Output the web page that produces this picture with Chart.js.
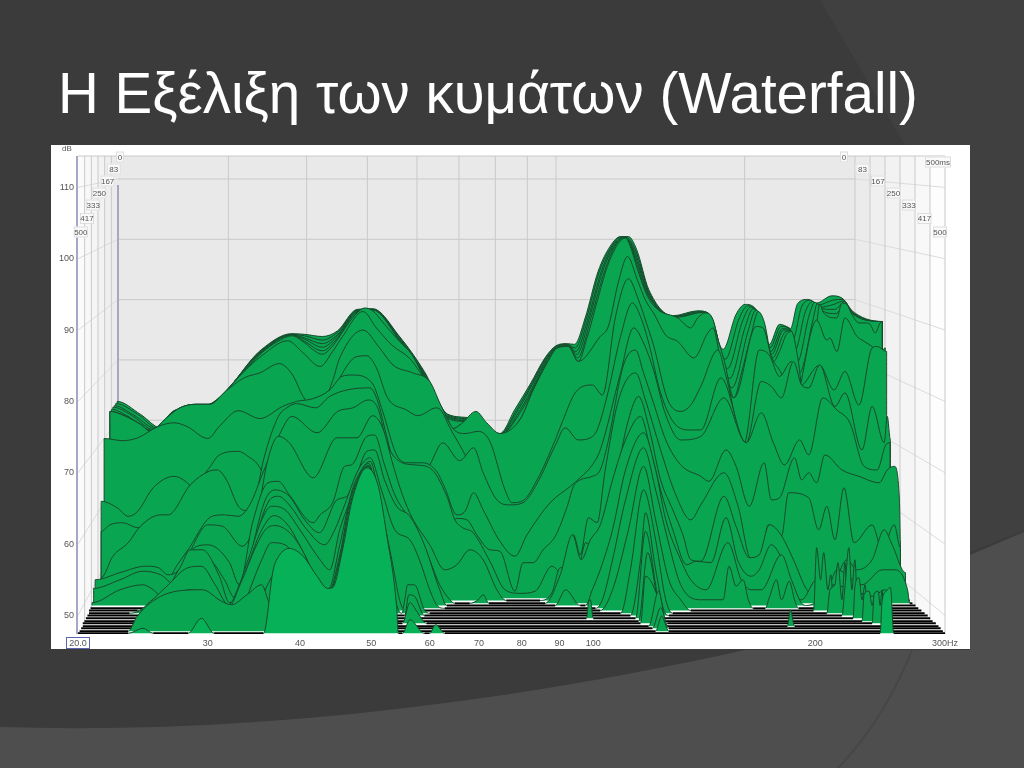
<!DOCTYPE html>
<html lang="el">
<head>
<meta charset="UTF-8">
<title>Waterfall</title>
<style>
    html, body { margin: 0; padding: 0; width: 1024px; height: 768px; overflow: hidden; background: #3b3b3b; }
    #bg { position: absolute; left: 0; top: 0; }
    h1 {
        position: absolute; left: 58px; top: 61px; margin: 0;
        font: normal 56.5px "Liberation Sans", Arial, sans-serif; color: #fff; white-space: nowrap;
    }
    .chart-container { position: absolute; left: 51px; top: 145px; width: 919px; height: 504px; background: #fff; }
</style>
</head>
<body>
<svg id="bg" width="1024" height="768">
    <path d="M820,0 L1024,0 L1024,530 L970,552 L970,145 L905,145 Z" fill="#404040"/>
    <path d="M0,727 C260,735 520,700 745,650 L970,650 L970,555 L1024,532 L1024,768 L0,768 Z" fill="#4e4e4e"/>
    <path d="M912,650 C890,705 865,740 838,768" fill="none" stroke="#464646" stroke-width="2"/>
</svg>
<h1>Η Εξέλιξη των κυμάτων (Waterfall)</h1>
<div class="chart-container"><canvas id="waterfall"></canvas></div>

<script src="https://cdn.jsdelivr.net/npm/chart.js"></script>
<script>
// axis ticks
const xTickHz = [20, 30, 40, 50, 60, 70, 80, 90, 100, 200, 300];
const xTickLabels = ['20.0', '30', '40', '50', '60', '70', '80', '90', '100', '200', '300Hz'];
const yTickDb = [50, 60, 70, 80, 90, 100, 110];
const depthLabels = ['0', '83', '167', '250', '333', '417', '500'];

// slices, back to front: frequency (Hz) and apparent level (dB)
const c0Hz = [22.6,24.3,25.9,27.1,30.2,35.5,39.0,40.6,42.9,45.0,47.8,50.2,54.6,59.0,63.5,68.0,74.7,78.3,82.1,86.0,89.0,92.0,94.3,97.5,101.5,105.5,108.9,111.6,114.5,118.9,128.2,138.6,143.5,150.0,156.2,160.7,165.9,173.3,178.9,184.5,185.1,189.3,195.4,200.9,210.7,217.4,222.9,228.6,233.0,235.9,238.2,240.4,242.7,244.2,246.5];
const c0Db = [80.0,78.2,76.3,78.8,79.6,87.3,89.5,89.4,89.1,89.9,92.9,93.0,89.1,84.2,78.2,77.7,75.5,78.9,82.4,86.1,87.8,88.1,88.0,91.7,98.2,101.8,103.1,103.1,101.3,95.7,92.0,92.7,92.3,87.3,92.2,93.6,93.0,88.0,90.8,90.3,90.2,93.7,94.3,93.8,94.8,94.5,93.1,91.5,91.2,90.6,91.2,90.5,90.8,90.2,91.2];
const c1Hz = [22.5,24.1,25.7,27.0,30.2,35.5,39.0,40.6,42.9,45.0,47.8,50.2,54.6,59.0,63.5,68.0,74.7,78.8,82.4,86.2,89.1,92.1,94.5,97.9,102.0,106.0,109.2,111.7,114.6,118.8,128.6,139.3,143.9,151.0,157.7,162.0,166.8,173.7,179.7,184.7,186.4,191.6,196.9,201.8,211.4,218.1,223.2,246.5];
const c1Db = [79.7,78.2,76.2,78.7,79.6,87.2,89.4,89.2,88.6,89.7,92.8,92.9,89.0,84.0,78.1,77.5,75.4,78.9,82.4,86.1,87.7,88.0,87.5,91.7,98.3,101.8,103.1,102.8,100.7,95.5,91.9,92.6,92.1,85.9,91.6,93.4,92.6,87.5,90.5,90.2,88.6,93.2,94.2,93.5,94.2,94.3,92.9,91.2];
const c2Hz = [22.4,23.8,25.6,26.9,30.2,35.5,39.0,40.6,42.9,45.0,47.8,50.2,54.6,59.0,63.5,68.0,74.7,79.2,82.7,86.4,89.2,92.2,94.7,98.4,102.6,106.5,109.6,111.9,114.6,118.7,129.0,140.0,144.2,152.1,159.2,163.4,167.7,174.2,180.5,185.0,187.7,194.0,198.4,202.7,212.0,218.8,223.5,246.5];
const c2Db = [79.4,78.1,76.1,78.6,79.6,87.1,89.4,88.9,88.1,89.4,92.7,92.9,88.8,83.8,77.9,77.4,75.4,78.9,82.4,86.0,87.7,88.0,87.0,91.7,98.3,101.9,103.0,102.5,100.2,95.3,91.9,92.6,92.0,84.6,91.1,93.2,92.3,87.0,90.2,90.1,87.1,92.6,94.0,93.2,93.6,94.1,92.7,91.2];
const c3Hz = [22.3,23.6,25.4,26.9,30.2,35.5,39.0,40.6,42.9,45.0,47.8,50.2,54.6,59.0,63.5,68.0,74.7,79.7,83.1,86.6,89.4,92.3,95.0,98.8,103.1,106.9,109.9,112.0,114.7,118.7,129.4,140.6,144.6,153.1,160.8,164.7,168.7,174.6,181.2,185.2,189.1,196.3,199.8,203.6,212.7,219.4,223.7,246.5];
const c3Db = [79.2,78.1,76.0,78.4,79.6,87.0,89.3,88.7,87.6,89.2,92.6,92.8,88.7,83.7,77.8,77.2,75.3,78.9,82.4,86.0,87.6,87.9,86.6,91.7,98.4,101.9,103.0,102.3,99.6,95.1,91.8,92.5,91.8,83.2,90.5,93.0,91.9,86.6,90.0,90.0,85.5,92.1,93.9,93.0,92.9,94.0,92.6,91.2];
const c4Hz = [22.2,23.3,25.3,26.8,30.2,35.5,39.0,40.6,42.9,45.0,47.8,50.2,54.6,59.0,63.5,68.0,74.7,80.1,83.4,86.8,89.5,92.4,95.2,99.3,103.7,107.4,110.3,112.2,114.7,118.6,129.8,141.3,144.9,154.2,162.3,166.1,169.6,175.1,182.0,185.5,190.4,198.7,201.3,204.5,213.3,220.1,224.0,246.5];
const c4Db = [78.9,78.0,75.9,78.3,79.6,86.9,89.3,88.4,87.1,88.9,92.5,92.8,88.5,83.5,77.6,77.1,75.3,78.9,82.4,85.9,87.6,87.8,86.1,91.7,98.4,102.0,102.9,102.0,99.1,94.9,91.8,92.5,91.7,81.9,90.0,92.8,91.6,86.1,89.7,89.9,84.0,91.5,93.7,92.7,92.3,93.8,92.4,91.2];
const mHz = [22.1,23.1,24.3,25.1,26.3,27.5,28.9,30.2,31.7,33.6,35.5,37.3,39.0,40.6,42.0,42.9,43.9,45.0,46.3,47.8,49.0,50.2,52.1,54.6,56.7,59.0,61.3,63.5,64.4,66.3,68.0,71.3,74.7,79.6,82.9,86.6,89.4,92.5,95.4,98.2,101.2,104.5,107.9,110.6,112.3,114.8,118.5,122.2,130.2,135.6,138.6,142.0,145.3,147.6,150.4,155.2,158.7,163.8,167.4,170.5,175.5,178.9,182.8,185.7,189.9,191.7,196.0,201.0,202.8,205.4,214.0,217.4,220.8,224.3,229.3,233.7,237.4,241.2,245.0,246.5];
const mDb = [78.6,78.0,76.8,75.8,77.6,79.1,79.6,79.6,81.4,84.2,86.8,88.4,89.2,88.2,87.0,86.6,87.3,88.7,90.6,92.4,93.1,92.7,90.8,88.4,86.6,83.3,80.3,77.5,76.1,76.8,76.9,76.1,75.2,77.5,81.7,85.4,87.5,87.7,85.6,89.1,94.0,98.9,102.0,102.9,101.7,98.5,94.7,92.9,91.7,90.3,91.7,92.4,91.5,88.7,85.9,80.5,83.8,89.4,92.6,91.2,85.6,87.0,89.4,89.8,85.4,82.4,84.0,91.0,93.6,92.4,91.7,93.8,93.6,92.2,91.0,91.0,90.8,89.6,91.0,91.2];
const l1Hz = [22.1,23.1,24.3,25.1,26.3,27.5,28.9,30.2,31.7,33.6,35.5,38.5,40.4,42.6,44.3,45.7,48.7,50.8,53.3,56.4,58.1,60.4,62.9,64.5,66.3,69.3,71.7,74.7,79.6,82.9,86.6,89.4,92.5,95.4,102.2,104.8,108.2,111.3,114.8,117.7,120.7,125.4,130.2,136.9,143.0,145.3,149.0,155.2,166.3,170.0,174.4,181.7,184.5,188.7,200.9,207.4,209.4,214.0,219.5,227.9,231.5,238.9,244.2,249.0];
const l1Db = [78.6,78.0,76.8,75.8,77.6,79.1,79.6,79.6,81.4,84.2,86.4,88.5,86.8,84.9,87.0,89.1,92.6,90.3,87.9,86.0,84.2,81.5,78.1,76.2,76.9,78.6,77.0,75.5,77.5,81.6,85.4,87.5,87.7,85.6,89.1,90.5,96.8,100.3,97.0,94.2,92.4,89.3,88.4,86.1,89.6,90.3,85.6,80.5,90.5,90.3,86.3,82.6,78.6,80.2,91.4,88.6,88.9,87.0,91.7,89.1,88.6,87.7,86.8,87.5];
const l2Hz = [22.1,23.1,24.3,25.1,26.3,27.5,28.9,30.2,31.7,33.6,35.3,37.5,39.1,40.4,42.3,44.3,45.3,48.7,51.3,53.5,56.9,60.0,62.1,64.9,67.0,69.8,72.4,75.9,77.6,80.3,83.9,88.8,91.0,94.5,99.7,102.9,107.2,111.6,115.2,118.9,120.7,126.2,131.4,135.6,139.9,147.6,151.4,160.2,167.9,173.3,178.9,185.7,190.5,202.8,212.1,219.5,229.3,238.9,242.7,250.0];
const l2Db = [78.6,78.0,76.8,75.8,77.6,79.1,79.6,79.6,81.4,83.3,84.0,85.3,83.7,80.7,78.6,82.9,86.1,90.0,87.5,85.1,84.0,82.8,79.5,75.9,75.5,75.8,74.4,67.6,65.8,66.1,69.0,74.6,77.4,81.2,82.3,80.9,91.9,97.2,94.2,90.0,87.9,80.2,78.6,79.5,82.1,87.2,83.5,74.2,87.2,86.5,83.5,85.6,82.1,85.1,81.6,84.2,79.5,87.5,87.7,87.0];
const l3Hz = [29.3,35.3,40.0,43.9,45.3,47.8,49.3,50.8,52.6,55.8,57.8,61.3,62.3,63.9,67.0,72.4,79.6,93.1];
const l3Db = [69.0,74.6,77.4,80.2,83.3,86.3,86.4,84.7,80.5,78.8,78.0,79.1,78.6,76.3,72.5,64.8,60.6,57.1];
const tbHz = [40.0,54.6,58.1,60.0,62.5,65.9,68.8,70.9,74.0,77.1,80.3,83.9,88.8,91.6,95.4,99.1,101.2,104.5,108.9,113.0,115.9,118.9,123.4,129.4,135.6,139.9,149.0,161.2,169.0,174.4,180.0,186.9,191.7,196.0,202.8,212.7,219.5,231.5,238.9,248.1,250.5,253.0];
const tbDb = [66.2,67.6,69.0,71.1,74.2,71.7,73.5,70.0,66.2,65.5,65.8,68.5,73.8,76.3,74.6,74.9,76.0,80.9,89.1,93.8,91.9,88.2,81.2,76.7,76.0,76.0,83.3,74.2,82.8,82.1,80.5,85.6,82.3,81.9,85.1,79.3,81.2,73.2,79.3,74.2,77.9,74.6];
const l4Hz = [21.7,23.0,24.1,25.7,27.0,28.1,30.0,31.1,33.0,35.3,37.9,39.6,41.7,43.9,45.6,47.1,50.1,51.8,54.1,55.9,58.7,61.3,62.9,65.3,67.0,68.8,70.9,74.7,78.3,81.3,87.4,93.1,96.0,99.7,102.2,108.9,113.4,117.0,120.7,125.4,131.4,139.9,150.4,161.2,169.0,175.5,181.7,190.5,196.0,204.8,214.0,222.9,233.0,242.7,249.3,252.7];
const l4Db = [74.8,74.5,74.9,76.5,77.0,76.5,74.8,76.5,78.7,77.6,79.3,80.0,80.4,81.6,83.5,83.7,82.6,78.6,72.5,71.4,71.4,70.2,67.9,64.1,64.6,67.2,64.8,60.4,58.3,61.3,65.8,68.1,69.3,71.1,73.2,84.0,90.3,88.2,84.4,78.1,74.6,75.1,80.5,74.2,78.4,74.2,71.1,74.6,72.5,80.5,78.8,77.0,70.9,70.4,73.9,74.2];
const bHz = [21.5,22.6,23.4,24.1,25.3,27.0,27.8,28.4,29.3,30.7,32.6];
const bDb = [66.0,65.1,63.9,64.6,67.9,69.5,69.0,68.1,65.5,63.4,60.6];
const eHz = [21.5,22.1,23.0,24.1,25.9,28.4,30.1,31.1,33.0,34.0,35.3,36.2,36.9];
const eDb = [61.8,62.7,63.0,62.3,62.3,67.4,70.6,72.5,73.0,72.3,70.7,67.6,62.7];
const l5Hz = [21.5,22.3,23.4,24.3,25.9,26.5,28.4,30.1,30.9,31.8,33.0,33.8,35.0,35.7,37.4,38.4,39.6,42.0,43.9,46.3,49.8,51.0,52.4,54.1,56.4,60.0,61.3,63.3,65.3,67.4,69.5,72.4,74.7,78.3,80.3,82.9,85.5,88.8,92.2,94.0,96.0,99.7,102.2,104.5,109.9,114.1,117.0,120.7,125.4,131.4,139.9,143.5,151.4,156.2,162.8,170.5,174.4,178.9,187.5,191.7,196.0,200.9,206.1,217.4,229.3,244.2,250.5,256.0,260.2,261.0];
const l5Db = [55.3,58.3,60.2,62.5,64.1,64.1,68.3,70.2,70.4,69.0,65.3,64.7,67.6,71.8,77.9,79.1,79.7,79.1,80.7,81.6,81.9,80.0,75.3,69.7,64.8,59.9,58.3,61.3,63.6,63.4,61.3,59.2,59.0,53.4,57.4,57.4,59.2,61.1,65.3,68.1,69.0,69.5,70.4,73.9,85.1,87.2,84.0,79.8,74.6,71.1,69.5,68.8,73.2,70.9,65.3,71.4,66.2,66.5,72.1,69.0,70.0,68.6,72.5,70.4,69.5,68.6,70.4,70.9,66.2,60.6];
const l6Hz = [25.9,27.2,28.2,30.4,31.6,33.0,34.2,35.7,37.5,39.0,42.2,45.0,47.2,49.5,51.0,52.6,54.6,57.3,60.0,63.3,64.9,66.5,68.7,72.4,75.9,79.6,83.4,87.9,91.0,94.0,96.0,98.5,101.2,103.8,108.2,114.1,117.7,123.4,129.4,135.6,139.9,150.4,157.2,163.8,169.0,172.8,177.2,180.0,184.0,196.0,202.2,207.4,212.7,218.8,225.8,238.9,246.5,256.0,261.0];
const l6Db = [53.4,56.9,59.2,63.9,64.1,63.9,65.5,70.2,75.3,77.9,75.6,78.6,79.1,80.2,79.1,73.9,71.6,71.1,70.7,66.7,63.4,62.3,61.6,57.6,53.6,53.1,53.4,56.9,55.7,61.3,58.5,63.7,63.0,70.4,80.2,84.0,80.2,73.2,66.9,63.4,65.5,70.0,65.3,57.8,58.3,62.7,62.0,61.1,67.2,66.5,62.0,65.3,60.6,67.9,60.2,62.7,59.2,62.7,59.5];
const l7Hz = [21.1,22.8,24.7,25.7,26.5,27.3,28.2,30.0,31.4,33.4,35.0,36.1,37.4,38.7,41.7,44.9,47.8,50.2,51.8,53.5,55.1,56.8,60.0,62.9,65.3,68.0,70.9,74.0,76.2,78.3,84.7,87.9,90.2,93.1,96.0,97.6,100.0,103.2,107.2,111.6,115.2,118.9,123.4,128.2,132.3,135.6,139.9,150.4,156.2,162.8,167.9,173.3,178.9,186.9,194.8,200.9,210.7,220.8,227.9,238.9,248.1,254.4,265.2];
const l7Db = [55.0,56.0,56.9,56.7,55.7,56.2,58.5,62.7,62.5,59.7,63.9,71.4,75.1,74.2,69.3,74.9,74.9,78.0,76.3,71.1,66.9,63.7,59.9,56.4,57.1,59.2,57.8,53.6,52.1,52.1,52.1,53.2,56.7,56.4,57.6,60.2,59.7,61.6,69.0,77.4,80.7,76.5,69.0,64.8,61.3,57.8,57.6,66.7,62.5,58.1,58.5,62.7,61.6,57.8,53.6,52.7,53.6,57.8,56.4,57.8,62.0,59.9,56.0];
const l8Hz = [21.0,22.8,24.5,25.9,27.1,27.6,28.4,30.0,32.1,33.1,34.5,36.2,37.4,38.7,41.7,42.6,44.3,46.0,47.0,49.3,50.5,52.1,53.8,56.4,59.6,61.9,63.9,64.9,68.0,69.8,70.9,72.2,86.0,90.2,93.7,96.3,99.1,102.2,106.2,110.6,115.9,119.6,123.4,128.2,133.9,137.8,144.4,151.4,157.2,163.8,167.9,174.4,181.1,186.9,191.7,200.9,207.4,214.0,231.5,246.5,256.8,266.9,268.7];
const l8Db = [53.8,55.0,56.2,55.7,54.3,56.4,59.0,59.9,57.4,54.3,63.0,68.6,68.8,66.9,63.0,64.1,65.8,70.9,71.1,75.1,75.3,71.1,66.9,63.4,58.5,54.3,52.2,51.7,51.7,52.2,52.9,51.7,51.7,55.7,61.3,57.8,60.6,62.7,69.0,74.6,77.9,73.2,67.6,62.0,57.1,57.6,57.4,63.7,57.6,55.5,56.4,59.9,57.4,53.2,52.2,55.0,53.6,56.4,54.3,56.4,56.4,53.6,51.7];
const l9Hz = [20.9,22.8,24.5,25.3,26.1,27.1,28.4,30.0,31.6,32.6,33.6,34.7,35.9,37.0,38.7,40.6,42.5,44.9,46.3,47.5,49.3,50.5,52.1,54.1,56.4,59.0,61.9,63.3,88.8,91.7,96.0,97.6,99.7,102.2,106.2,110.6,117.0,121.5,125.4,131.4,135.6,142.2,152.3,158.7,163.8,169.0,180.0,185.7,191.7,194.8,202.8,210.7,224.3,238.9,249.3,254.4];
const l9Db = [51.8,53.6,54.3,53.6,52.5,55.0,57.8,57.8,55.0,52.5,52.9,60.6,66.2,67.6,66.7,63.4,61.6,66.2,66.7,69.0,73.0,73.2,69.0,65.3,63.9,59.9,53.6,51.4,51.4,53.6,51.4,51.4,53.6,56.4,62.0,70.4,75.6,70.4,63.4,57.8,55.0,53.6,60.2,55.0,53.6,53.6,58.5,55.0,51.7,51.4,52.2,54.3,53.6,52.7,53.6,51.4];
const l10Hz = [26.1,27.5,28.4,29.5,31.1,32.1,33.6,35.1,36.4,37.4,38.7,40.9,43.2,44.6,46.0,48.0,49.8,51.6,53.8,56.4,58.1,60.0,61.3,62.9,100.7,102.9,106.2,110.6,117.0,121.5,126.2,131.4,139.9,150.0,152.8,156.2,159.7,162.3,164.8,171.1,173.3,177.2,180.0,184.5,187.5,189.9,204.1];
const l10Db = [53.6,56.7,59.2,59.2,55.5,51.8,54.3,62.0,66.2,66.7,65.5,62.0,59.9,62.0,65.5,70.4,72.1,67.6,62.0,60.6,57.8,53.6,51.5,51.0,51.0,52.2,57.8,66.2,73.5,67.6,60.6,54.3,52.2,52.2,56.9,54.1,55.0,52.2,51.0,51.0,52.5,55.0,52.2,54.8,52.2,51.0,51.0];
const l11Hz = [24.1,25.1,26.4,28.2,29.4,30.7,32.0,33.1,34.2,35.5,36.6,38.2,40.0,42.6,43.9,45.3,47.1,48.5,49.8,51.6,53.3,54.6,55.5,102.2,106.2,111.6,117.0,121.5,126.6,131.4,135.6,199.0,200.9,203.4,205.4,208.1,210.0,212.1];
const l11Db = [50.7,52.0,54.1,56.7,56.9,54.3,51.5,54.3,58.5,63.4,65.3,64.8,62.0,57.8,56.4,62.0,66.9,70.4,71.6,64.8,57.8,52.2,50.7,50.7,53.6,62.0,70.9,63.4,55.0,52.2,50.7,50.7,59.5,55.0,58.8,53.6,55.7,50.7];
const l12Hz = [23.5,24.5,26.3,28.4,30.7,32.0,33.1,34.2,35.5,36.9,38.5,40.6,42.6,43.7,45.3,47.1,48.5,49.6,51.3,53.0,54.1,55.0,55.5,56.0,57.2,59.0,60.0,108.9,112.3,117.0,121.5,125.4,128.2,207.4,209.4,212.7,214.7,217.4,219.5,221.5];
const l12Db = [50.3,50.8,52.2,53.6,51.8,50.8,53.6,57.8,62.0,64.0,62.7,58.5,54.3,53.6,59.9,67.6,70.4,71.3,64.1,56.4,51.5,50.3,52.2,54.3,54.3,50.8,50.3,50.3,56.4,67.6,60.6,52.2,50.3,50.3,53.6,54.3,57.4,52.2,57.4,50.3];
const l13Hz = [24.9,26.3,27.5,29.3,31.6,33.4,34.7,35.9,37.0,39.0,40.6,42.5,43.8,45.3,47.1,48.5,49.6,51.3,53.0,54.1,55.5,56.2,57.2,59.0,112.3,115.9,117.7,121.5,124.6,126.6,217.4,219.5,222.2,224.3,226.4,228.6];
const l13Db = [50.0,50.8,52.2,50.6,50.3,55.0,59.2,62.0,62.6,61.3,58.5,53.6,53.4,58.5,66.9,70.2,71.0,63.4,55.0,50.0,50.0,52.9,52.7,50.0,50.0,57.8,64.4,56.4,50.8,50.0,50.0,54.0,59.5,53.6,57.8,50.0];
const l14Hz = [33.1,34.2,35.5,36.6,38.2,40.0,42.6,43.8,45.0,46.8,48.5,49.5,51.3,53.0,54.1,97.9,98.5,99.1,100.0,114.1,117.7,121.5,123.4,225.1,226.4,229.3,231.5,233.7,235.9];
const l14Db = [49.6,53.6,57.8,60.2,59.9,57.1,53.6,53.1,56.4,66.2,69.9,70.9,62.7,53.6,49.6,49.6,51.8,52.2,49.6,49.6,61.8,54.3,49.6,49.6,54.0,55.3,52.2,54.3,49.6];
const l15Hz = [34.7,35.9,37.5,39.4,42.0,43.9,45.3,46.8,48.2,49.3,51.3,53.3,115.2,118.5,122.2,124.2,231.5,233.0,236.7,238.9,241.2,242.7];
const l15Db = [49.2,53.6,56.4,56.2,53.6,53.4,57.8,65.5,69.7,70.7,62.0,49.2,49.2,58.8,52.2,49.2,49.2,53.0,53.4,51.4,53.2,49.2];
const l16Hz = [55.1,56.4,57.6,59.4,115.9,117.7,122.2,124.6,126.0,238.9,240.4,243.5,245.0,246.5,248.1];
const l16Db = [48.9,51.8,50.6,48.9,48.9,55.5,52.7,49.4,48.9,48.9,53.0,53.4,51.4,53.6,48.9];
const l17Hz = [118.9,122.6,125.8,183.4,185.1,187.5];
const l17Db = [48.5,53.4,48.5,48.5,50.8,48.5];
const l18Hz = [120.3,123.4,126.6];
const l18Db = [48.2,51.1,48.2];
const l19Hz = [23.4,24.0,25.1,27.2,29.5,31.3,32.3,33.9,35.5,36.2,37.5,121.5,123.8,126.6];
const l19Db = [47.8,49.7,51.8,53.4,53.6,52.0,51.5,52.9,54.3,52.2,47.8,47.8,49.9,47.8];
const fHz = [23.4,24.5,25.3,28.2,29.4,30.6,35.7,36.8,37.5,38.7,40.4,42.2,43.6,44.3,45.7,47.1,49.3,51.1,52.4,54.1,54.4,55.1,56.4,59.0,60.0,61.1,62.9,245.0,246.5,249.7,253.0,255.6];
const fDb = [47.5,48.2,47.5,47.5,49.6,47.5,47.5,56.4,58.4,59.4,58.3,55.5,53.8,53.9,59.2,66.2,70.7,68.1,61.6,51.3,47.5,47.5,49.4,47.5,47.5,48.7,47.5,47.5,52.0,53.4,53.9,47.5];

const sliceHz = [c0Hz,c1Hz,c2Hz,c3Hz,c4Hz,mHz,l1Hz,l2Hz,l3Hz,tbHz,l4Hz,bHz,eHz,l5Hz,l6Hz,l7Hz,l8Hz,l9Hz,l10Hz,l11Hz,l12Hz,l13Hz,l14Hz,l15Hz,l16Hz,l17Hz,l18Hz,l19Hz,fHz];
const sliceDb = [c0Db,c1Db,c2Db,c3Db,c4Db,mDb,l1Db,l2Db,l3Db,tbDb,l4Db,bDb,eDb,l5Db,l6Db,l7Db,l8Db,l9Db,l10Db,l11Db,l12Db,l13Db,l14Db,l15Db,l16Db,l17Db,l18Db,l19Db,fDb];
// where each slice sits on the floor: level and left/right ends
const floorDb = [58.4,57.7,57.0,56.3,55.6,54.9,54.5,54.2,53.8,53.5,53.1,53.0,52.9,52.8,52.4,52.1,51.7,51.4,51.0,50.7,50.3,50.0,49.6,49.2,48.9,48.5,48.2,47.8,47.5];
const leftHz = [22.6,22.4,22.2,22.0,21.9,21.8,21.7,21.6,21.5,21.4,21.3,21.3,21.3,21.2,21.2,21.1,21.0,20.9,20.8,20.7,20.7,20.6,20.5,20.4,20.3,20.3,20.2,20.1,20.0];
const rightHz = [247,247,247,247,247,247,252,254,257,259,261,261,261,264,266,268.7,271,273.6,276,278.7,281.5,284.2,286.4,288.6,291.5,294,296,298,300];

// room behind the slices: back wall, side walls, grid and depth labels
const roomPlugin = {
    id: 'room',
    beforeDraw(chart) {
        const { ctx, chartArea: a, scales } = chart;
        const inL = 40, inR = 90, rise = 78;
        const backL = a.left + inL, backR = a.right - inR, backB = a.bottom - rise;
        const backY = db => a.top + 23 + (110 - db) * 6.03;
        const backX = hz => backL + (scales.x.getPixelForValue(hz) - a.left) / (a.right - a.left) * (backR - backL);
        ctx.save();
        // walls
        const leftShades = ['#fbfbfb', '#f8f8f8', '#f5f5f5', '#f2f2f2', '#efefef', '#ebebeb'];
        const rightShades = ['#ebebeb', '#efefef', '#f2f2f2', '#f5f5f5', '#f8f8f8', '#fdfdfd'];
        ctx.fillStyle = '#e9e9e9';
        ctx.fillRect(backL, a.top, backR - backL, backB - a.top);
        for (let i = 0; i < 6; i++) {
            const x0 = a.left + inL * i / 6, x1 = a.left + inL * (i + 1) / 6;
            ctx.fillStyle = leftShades[i];
            ctx.beginPath();
            ctx.moveTo(x0, a.top); ctx.lineTo(x1, a.top);
            ctx.lineTo(x1, a.bottom - rise * (i + 1) / 6); ctx.lineTo(x0, a.bottom - rise * i / 6);
            ctx.fill();
            const x2 = backR + inR * i / 6, x3 = backR + inR * (i + 1) / 6;
            ctx.fillStyle = rightShades[i];
            ctx.beginPath();
            ctx.moveTo(x2, a.top); ctx.lineTo(x3, a.top);
            ctx.lineTo(x3, backB + rise * (i + 1) / 6); ctx.lineTo(x2, backB + rise * i / 6);
            ctx.fill();
        }
        // grid
        ctx.strokeStyle = '#c9c9c9';
        ctx.lineWidth = 1;
        const seg = (x0, y0, x1, y1) => { ctx.beginPath(); ctx.moveTo(x0, y0); ctx.lineTo(x1, y1); ctx.stroke(); };
        seg(a.left, a.top, a.right, a.top);
        yTickDb.forEach(db => {
            const yB = backY(db), yF = scales.y.getPixelForValue(db);
            seg(backL, yB, backR, yB);
            ctx.strokeStyle = '#dcdcdc';
            seg(a.left, yF, backL, yB);
            seg(a.right, yF, backR, yB);
            ctx.strokeStyle = '#c9c9c9';
        });
        xTickHz.slice(1, -1).forEach(hz => seg(backX(hz), a.top, backX(hz), backB));
        for (let i = 1; i <= 6; i++) {
            const xl = a.left + inL * i / 6;
            if (i < 6) seg(xl, a.top, xl, a.bottom - rise * i / 6);
            const xr = a.right - inR * i / 6;
            seg(xr, a.top, xr, a.bottom - rise * i / 6);
        }
        seg(a.right, a.top, a.right, a.bottom);
        ctx.strokeStyle = '#a6a6c6';
        ctx.lineWidth = 2;
        seg(a.left - 1, a.top, a.left - 1, a.bottom);
        seg(backL, a.top + 29, backL, backB);
        ctx.restore();
    },
    afterDraw(chart) {
        const { ctx, chartArea: a } = chart;
        const box = (text, x, y, w, h) => {
            ctx.fillStyle = 'rgba(250,250,250,0.9)';
            ctx.fillRect(x - w / 2, y - h / 2, w, h);
            ctx.strokeStyle = '#dedede';
            ctx.lineWidth = 1;
            ctx.strokeRect(x - w / 2 + 0.5, y - h / 2 + 0.5, w - 1, h - 1);
            ctx.fillStyle = '#555';
            ctx.fillText(text, x, y + 0.5);
        };
        ctx.save();
        ctx.font = '8px "Liberation Sans", Arial, sans-serif';
        ctx.textAlign = 'center';
        ctx.textBaseline = 'middle';
        depthLabels.forEach((label, i) => {
            const y = a.top + 1 + i * 12 + (i > 4 ? (i - 4) * 1.5 : 0);
            box(label, a.left + 42 - i * 6.2 - (i > 2 ? 2 : 0), y, label.length > 1 ? 14 : 8, 11);
            box(label, a.right - 101 + i * 15.5 + (i > 0 ? 3 : 0), y, label.length > 1 ? 14 : 8, 11);
        });
        box('500ms', a.right - 7, a.top + 6, 26, 11);
        ctx.fillStyle = '#555';
        ctx.fillText('dB', 16, 4);
        ctx.strokeStyle = '#5b64b0';
        ctx.strokeRect(15.5, 492.5, 23, 11);
        ctx.restore();
    }
};

const datasets = [];
for (let i = sliceHz.length - 1; i >= 0; i--) {
    const floor = floorDb[i];
    const hz = sliceHz[i], db = sliceDb[i];
    const pts = [{ x: leftHz[i], y: floor }, { x: hz[0], y: floor }];
    hz.forEach((f, j) => pts.push({ x: f, y: db[j] }));
    pts.push({ x: hz[hz.length - 1], y: floor }, { x: rightHz[i], y: floor });
    const onFloor = c => c.p0.parsed.y <= floor + 0.01 && c.p1.parsed.y <= floor + 0.01;
    datasets.push({
        data: pts,
        borderColor: '#174a2c',
        borderWidth: 1,
        backgroundColor: i >= sliceHz.length - 1 ? '#07b158' : '#0aa550',
        fill: { value: floor },
        pointRadius: 0,
        cubicInterpolationMode: 'monotone',
        segment: {
            borderColor: c => onFloor(c) ? '#000' : undefined,
            borderWidth: c => onFloor(c) ? 1.9 : undefined
        }
    });
}

new Chart(document.getElementById('waterfall').getContext('2d'), {
    type: 'line',
    data: { datasets },
    plugins: [roomPlugin],
    options: {
        responsive: true,
        maintainAspectRatio: false,
        animation: false,
        events: [],
        layout: { padding: { left: 0, top: 11, right: 25, bottom: 0 } },
        plugins: { legend: { display: false }, tooltip: { enabled: false }, filler: { propagate: false, drawTime: 'beforeDatasetDraw' } },
        scales: {
            x: {
                type: 'logarithmic', min: 20, max: 300,
                grid: { display: false, drawTicks: false }, border: { display: false },
                afterBuildTicks: s => { s.ticks = xTickHz.map(v => ({ value: v })); },
                afterFit: s => { s.height = 15; },
                ticks: {
                    autoSkip: false, maxRotation: 0, padding: 4, color: '#555',
                    font: { family: '"Liberation Sans", Arial, sans-serif', size: 9 },
                    callback: (v, i) => xTickLabels[i]
                }
            },
            y: {
                type: 'linear', min: 47.4, max: 114.4,
                grid: { display: false, drawTicks: false }, border: { display: false },
                afterBuildTicks: s => { s.ticks = yTickDb.map(v => ({ value: v })); },
                afterFit: s => { s.width = 27; },
                ticks: {
                    padding: 4, color: '#555',
                    font: { family: '"Liberation Sans", Arial, sans-serif', size: 9 },
                    callback: v => String(v)
                }
            }
        }
    }
});
</script>
</body>
</html>
